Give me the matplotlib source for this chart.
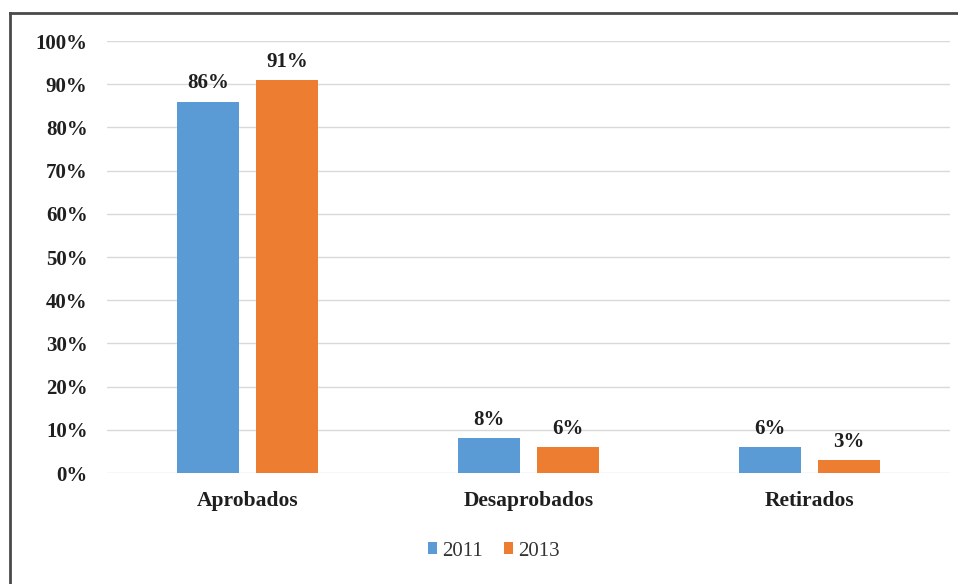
import numpy as np
import matplotlib.pyplot as plt
from matplotlib.lines import Line2D

categories = ["Aprobados", "Desaprobados", "Retirados"]
years = ["2011", "2013"]
values_2011 = [86, 8, 6]
values_2013 = [91, 6, 3]
yticks = list(range(0, 101, 10))

colors = ["#5B9BD5", "#ED7D31"]

plt.rcParams["font.family"] = ["Liberation Serif", "DejaVu Serif"]
fig = plt.figure(figsize=(9.58, 5.84), dpi=100)
ax = fig.add_axes([0.1117, 0.190, 0.880, 0.7397])

x = np.arange(len(categories))
width = 0.22
offset = 0.14

for vals, col, lab, sign in [(values_2011, colors[0], years[0], -1),
                             (values_2013, colors[1], years[1], 1)]:
    bars = ax.bar(x + sign * offset, vals, width, color=col, label=lab, zorder=3)
    for b, v in zip(bars, vals):
        ax.annotate(f"{v}%", (b.get_x() + b.get_width() / 2, v),
                    xytext=(0, 6), textcoords="offset points",
                    ha="center", va="bottom", fontsize=15, fontweight="bold",
                    color="#1f1f1f")

ax.set_xlim(-0.5, 2.5)
ax.set_ylim(0, 100)
ax.set_yticks(yticks)
ax.set_yticklabels([f"{t}%" for t in yticks])
ax.set_xticks(x)
ax.set_xticklabels(categories)

ax.grid(axis="y", color="#D9D9D9", linewidth=1, zorder=0)
ax.set_axisbelow(True)
for spine in ax.spines.values():
    spine.set_visible(False)
ax.tick_params(axis="y", length=0, pad=14, labelsize=15, colors="#1f1f1f")
ax.tick_params(axis="x", length=0, pad=13, labelsize=15.5, colors="#1f1f1f")
for lbl in ax.get_yticklabels() + ax.get_xticklabels():
    lbl.set_fontweight("bold")

fig.legend(loc="center", bbox_to_anchor=(494 / 958, 1 - 551 / 584), ncol=2,
           frameon=False, fontsize=15, handlelength=0.45, handleheight=0.45,
           handletextpad=0.25, columnspacing=1.0, labelcolor="#333333")

# marco exterior (solo arriba e izquierda)
fig.add_artist(Line2D([10 / 958, 1], [1 - 13 / 584, 1 - 13 / 584],
                      transform=fig.transFigure, color="#4a4a4a", linewidth=2))
fig.add_artist(Line2D([10 / 958, 10 / 958], [0, 1 - 13 / 584],
                      transform=fig.transFigure, color="#4a4a4a", linewidth=2))

fig.savefig("out.png", dpi=100)
